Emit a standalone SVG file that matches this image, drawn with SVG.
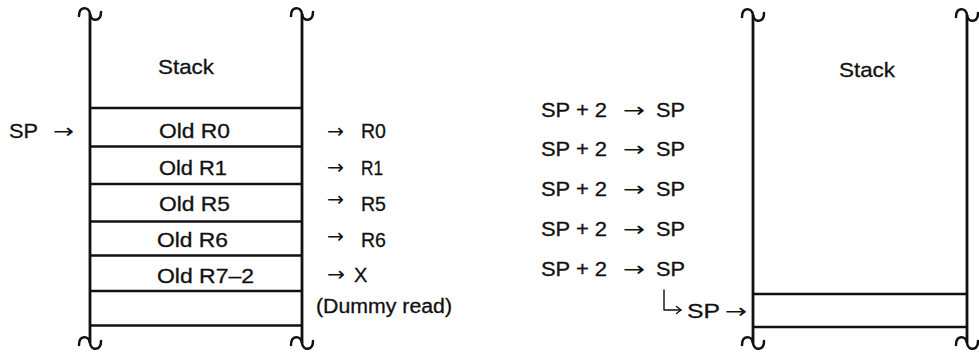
<svg xmlns="http://www.w3.org/2000/svg" width="979" height="357" viewBox="0 0 979 357">
  <style>
    .t{font-family:"Liberation Sans",Arial,Helvetica,sans-serif;font-size:20px;fill:#111;stroke:#111;stroke-width:0.3}
    .big{font-size:21px}
    .ar{font-family:"DejaVu Sans",sans-serif;font-size:20px;fill:#111}
    .wall{stroke:#111;stroke-width:2.8;fill:none}
    .row{stroke:#111;stroke-width:2.7;fill:none}
    .brk{stroke:#111;stroke-width:2.5;fill:none;stroke-linecap:round}
    .thin{stroke:#111;stroke-width:1.4;fill:none;stroke-linecap:round;stroke-linejoin:round}
  </style>
  <defs>
    <!-- break mark drawn at the open ends of a stack -->
    <path id="brk" class="brk" d="M -11,2 C -11,-8 -1,-8 0,0 C 1,8 11,8 11,-2"/>
  </defs>
  <rect width="979" height="357" fill="#fff"/>

  <!-- stack before the return -->
  <g id="stack-left">
    <line class="wall" x1="90" y1="14" x2="90" y2="343"/>
    <line class="wall" x1="302" y1="14" x2="302" y2="343"/>
    <use href="#brk" x="90" y="14"/>
    <use href="#brk" x="302" y="14"/>
    <use href="#brk" x="90" y="343"/>
    <use href="#brk" x="302" y="343"/>
    <g class="row">
      <line x1="90" y1="108" x2="302" y2="108"/>
      <line x1="90" y1="146.5" x2="302" y2="146.5"/>
      <line x1="90" y1="184" x2="302" y2="184"/>
      <line x1="90" y1="221.5" x2="302" y2="221.5"/>
      <line x1="90" y1="255.5" x2="302" y2="255.5"/>
      <line x1="90" y1="291" x2="302" y2="291"/>
      <line x1="90" y1="325.5" x2="302" y2="325.5"/>
    </g>
    <text class="t big" x="158" y="74" textLength="56" lengthAdjust="spacingAndGlyphs">Stack</text>
    <text class="t" x="159" y="138" textLength="71" lengthAdjust="spacingAndGlyphs">Old R0</text>
    <text class="t" x="159" y="175" textLength="68" lengthAdjust="spacingAndGlyphs">Old R1</text>
    <text class="t" x="159" y="211" textLength="71" lengthAdjust="spacingAndGlyphs">Old R5</text>
    <text class="t" x="157" y="247" textLength="71" lengthAdjust="spacingAndGlyphs">Old R6</text>
    <text class="t" x="157" y="283" textLength="97" lengthAdjust="spacingAndGlyphs">Old R7–2</text>
  </g>

  <!-- pointer into the left stack -->
  <g id="sp-left">
    <text class="t" x="9" y="138" textLength="29" lengthAdjust="spacingAndGlyphs">SP</text>
    <text class="ar" x="53" y="138" textLength="21" lengthAdjust="spacingAndGlyphs">→</text>
  </g>

  <!-- registers restored from the stack -->
  <g id="restore">
    <text class="ar" x="327" y="138" textLength="17" lengthAdjust="spacingAndGlyphs">→</text>
    <text class="t" x="361" y="138" textLength="25" lengthAdjust="spacingAndGlyphs">R0</text>
    <text class="ar" x="327" y="174" textLength="17" lengthAdjust="spacingAndGlyphs">→</text>
    <text class="t" x="361" y="175" textLength="22" lengthAdjust="spacingAndGlyphs">R1</text>
    <text class="ar" x="327" y="206" textLength="17" lengthAdjust="spacingAndGlyphs">→</text>
    <text class="t" x="361" y="211" textLength="25" lengthAdjust="spacingAndGlyphs">R5</text>
    <text class="ar" x="327" y="243" textLength="17" lengthAdjust="spacingAndGlyphs">→</text>
    <text class="t" x="361" y="247" textLength="25" lengthAdjust="spacingAndGlyphs">R6</text>
    <text class="ar" x="327" y="281" textLength="18" lengthAdjust="spacingAndGlyphs">→</text>
    <text class="t" x="354" y="282">X</text>
    <text class="t" x="316" y="313" textLength="136" lengthAdjust="spacingAndGlyphs">(Dummy read)</text>
  </g>

  <!-- stack pointer increments -->
  <g id="increments">
    <g transform="translate(0,117)">
      <text class="t" x="541" y="0" textLength="66" lengthAdjust="spacingAndGlyphs">SP + 2</text>
      <text class="ar" x="623" y="0" textLength="22" lengthAdjust="spacingAndGlyphs">→</text>
      <text class="t" x="656" y="0" textLength="29" lengthAdjust="spacingAndGlyphs">SP</text>
    </g>
    <g transform="translate(0,156)">
      <text class="t" x="541" y="0" textLength="66" lengthAdjust="spacingAndGlyphs">SP + 2</text>
      <text class="ar" x="623" y="0" textLength="22" lengthAdjust="spacingAndGlyphs">→</text>
      <text class="t" x="656" y="0" textLength="29" lengthAdjust="spacingAndGlyphs">SP</text>
    </g>
    <g transform="translate(0,196)">
      <text class="t" x="541" y="0" textLength="66" lengthAdjust="spacingAndGlyphs">SP + 2</text>
      <text class="ar" x="623" y="0" textLength="22" lengthAdjust="spacingAndGlyphs">→</text>
      <text class="t" x="656" y="0" textLength="29" lengthAdjust="spacingAndGlyphs">SP</text>
    </g>
    <g transform="translate(0,236)">
      <text class="t" x="541" y="0" textLength="66" lengthAdjust="spacingAndGlyphs">SP + 2</text>
      <text class="ar" x="623" y="0" textLength="22" lengthAdjust="spacingAndGlyphs">→</text>
      <text class="t" x="656" y="0" textLength="29" lengthAdjust="spacingAndGlyphs">SP</text>
    </g>
    <g transform="translate(0,276)">
      <text class="t" x="541" y="0" textLength="66" lengthAdjust="spacingAndGlyphs">SP + 2</text>
      <text class="ar" x="623" y="0" textLength="22" lengthAdjust="spacingAndGlyphs">→</text>
      <text class="t" x="656" y="0" textLength="29" lengthAdjust="spacingAndGlyphs">SP</text>
    </g>
  </g>

  <!-- stack after the return -->
  <g id="stack-right">
    <line class="wall" x1="753" y1="15" x2="753" y2="343"/>
    <line class="wall" x1="967" y1="15" x2="967" y2="343"/>
    <use href="#brk" x="753" y="15"/>
    <use href="#brk" x="967" y="15"/>
    <use href="#brk" x="753" y="343"/>
    <use href="#brk" x="967" y="343"/>
    <g class="row">
      <line x1="753" y1="294" x2="967" y2="294"/>
      <line x1="753" y1="327" x2="967" y2="327"/>
    </g>
    <text class="t big" x="839" y="77" textLength="56" lengthAdjust="spacingAndGlyphs">Stack</text>
  </g>

  <!-- final stack pointer -->
  <g id="connectors">
    <path class="thin" d="M664,290 V310 H681"/>
    <path class="thin" d="M676.5,306.5 L681,310 L676.5,313.5"/>
  </g>
  <g id="sp-right">
    <text class="t" x="687" y="318" textLength="33" lengthAdjust="spacingAndGlyphs">SP</text>
    <text class="ar" x="725" y="318" textLength="22" lengthAdjust="spacingAndGlyphs">→</text>
  </g>
</svg>
